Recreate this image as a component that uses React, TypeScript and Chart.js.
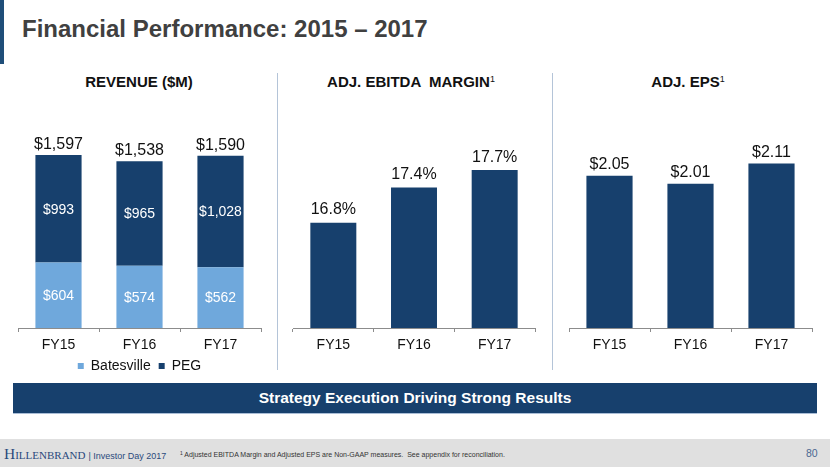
import React, { useEffect, useRef } from "react";
import { Chart, registerables } from "chart.js";

Chart.register(...registerables);

// ---- data ----
const categories = ["FY15", "FY16", "FY17"];
const batesvilleRevenue = [604, 574, 562];
const pegRevenue = [993, 965, 1028];
const revenueTotals = [1597, 1538, 1590];
const ebitdaMargin = [16.8, 17.4, 17.7];
const adjEps = [2.05, 2.01, 2.11];

const NAVY = "#17406d";
const LIGHT = "#6fa8dc";
const FONT = '"Liberation Sans", Arial, Helvetica, sans-serif';

const money = (v: number) => "$" + v.toLocaleString("en-US");
const pct = (v: number) => v.toFixed(1) + "%";
const dollars2 = (v: number) => "$" + v.toFixed(2);

function makeLabelPlugin(topLabels: string[], gap: number, innerLabels?: string[][]) {
  return {
    id: "valueLabels",
    afterDatasetsDraw(chart: any) {
      const ctx = chart.ctx;
      ctx.save();
      ctx.textAlign = "center";
      if (innerLabels) {
        ctx.font = `14px ${FONT}`;
        ctx.fillStyle = "#ffffff";
        ctx.textBaseline = "middle";
        chart.data.datasets.forEach((_ds: any, di: number) => {
          chart.getDatasetMeta(di).data.forEach((bar: any, i: number) => {
            ctx.fillText(innerLabels[di][i], bar.x, (bar.y + bar.base) / 2 + 1);
          });
        });
      }
      const topMeta = chart.getDatasetMeta(chart.data.datasets.length - 1);
      ctx.font = `16px ${FONT}`;
      ctx.fillStyle = "#111111";
      ctx.textBaseline = "alphabetic";
      topMeta.data.forEach((bar: any, i: number) => {
        ctx.fillText(topLabels[i], bar.x, bar.y - gap);
      });
      ctx.restore();
    },
  };
}

function xScale(stacked: boolean, height: number) {
  return {
    stacked,
    grid: {
      display: true,
      drawOnChartArea: false,
      drawTicks: true,
      tickLength: 4,
      color: "#8c8c8c",
      offset: true,
    },
    border: { display: true, color: "#8c8c8c", width: 1 },
    ticks: { color: "#111111", font: { family: FONT, size: 14 }, padding: 5 },
    afterFit: (s: any) => {
      s.height = height;
    },
  };
}

function useChart(build: (c: HTMLCanvasElement) => Chart) {
  const ref = useRef<HTMLCanvasElement | null>(null);
  useEffect(() => {
    if (!ref.current) return;
    const chart = build(ref.current);
    return () => chart.destroy();
  }, []);
  return ref;
}

function RevenueChart() {
  const ref = useChart(
    (c) =>
      new Chart(c, {
        type: "bar",
        data: {
          labels: categories,
          datasets: [
            { label: "Batesville", data: batesvilleRevenue, backgroundColor: LIGHT, borderWidth: 0 },
            { label: "PEG", data: pegRevenue, backgroundColor: NAVY, borderWidth: 0 },
          ],
        },
        options: {
          animation: false,
          responsive: false,
          layout: { padding: { left: 10, right: 11, top: 70, bottom: 7 } },
          datasets: { bar: { categoryPercentage: 1, barPercentage: 0.57 } },
          scales: {
            x: xScale(true, 23) as any,
            y: { stacked: true, display: false, min: 0, max: 1828 },
          },
          plugins: {
            legend: {
              position: "bottom",
              labels: {
                boxWidth: 6,
                boxHeight: 6,
                padding: 8,
                color: "#111111",
                font: { family: FONT, size: 14 },
              },
            },
            tooltip: { enabled: false },
          },
        },
        plugins: [
          makeLabelPlugin(revenueTotals.map(money), 6, [
            batesvilleRevenue.map(money),
            pegRevenue.map(money),
          ]),
        ],
      } as any)
  );
  return (
    <canvas
      ref={ref}
      width={264}
      height={330}
      style={{ position: "absolute", left: 8, top: 60, width: 264, height: 330 }}
    />
  );
}

function SimpleBarChart(props: { data: number[]; labels: string[]; min: number; max: number; left: number; width: number; gap: number }) {
  const ref = useChart(
    (c) =>
      new Chart(c, {
        type: "bar",
        data: {
          labels: categories,
          datasets: [{ label: "value", data: props.data, backgroundColor: NAVY, borderWidth: 0 }],
        },
        options: {
          animation: false,
          responsive: false,
          layout: { padding: { left: 10, right: 10, top: 70, bottom: 22 } },
          datasets: { bar: { categoryPercentage: 1, barPercentage: 0.57 } },
          scales: {
            x: xScale(false, 30) as any,
            y: { display: false, min: props.min, max: props.max },
          },
          plugins: { legend: { display: false }, tooltip: { enabled: false } },
        },
        plugins: [makeLabelPlugin(props.labels, props.gap)],
      } as any)
  );
  return (
    <canvas
      ref={ref}
      width={props.width}
      height={320}
      style={{ position: "absolute", left: props.left, top: 60, width: props.width, height: 320 }}
    />
  );
}

const abs = (s: React.CSSProperties): React.CSSProperties => ({ position: "absolute", ...s });

function PanelTitle(props: { cx: number; text: string; sup?: boolean }) {
  return (
    <div
      style={abs({
        left: props.cx - 150,
        width: 300,
        top: 74,
        textAlign: "center",
        fontSize: 15,
        lineHeight: "15px",
        fontWeight: 700,
        color: "#111111",
        whiteSpace: "pre",
      })}
    >
      {props.text}
      {props.sup ? (
        <span style={{ fontSize: 9, fontWeight: 400, position: "relative", top: -5 }}>1</span>
      ) : null}
    </div>
  );
}

export default function App() {
  return (
    <div
      style={{
        position: "fixed",
        left: 0,
        top: 0,
        width: 830,
        height: 467,
        background: "#ffffff",
        overflow: "hidden",
        fontFamily: FONT,
      }}
    >
      <div style={abs({ left: 0, top: 0, width: 4, height: 64, background: "#1f4e79" })} />
      <div
        style={abs({
          left: 22,
          top: 17,
          fontSize: 24,
          lineHeight: "24px",
          fontWeight: 700,
          color: "#404040",
          whiteSpace: "nowrap",
        })}
      >
        Financial Performance: 2015 – 2017
      </div>

      <PanelTitle cx={139} text="REVENUE ($M)" />
      <PanelTitle cx={411} text={"ADJ. EBITDA  MARGIN"} sup />
      <PanelTitle cx={688} text="ADJ. EPS" sup />

      <div style={abs({ left: 277, top: 73, width: 1, height: 297, background: "#b4c4d8" })} />
      <div style={abs({ left: 552, top: 73, width: 1, height: 297, background: "#b4c4d8" })} />

      <RevenueChart />
      <SimpleBarChart data={ebitdaMargin} labels={ebitdaMargin.map(pct)} min={15} max={18.385} left={283} width={262} gap={8.5} />
      <SimpleBarChart data={adjEps} labels={adjEps.map(dollars2)} min={1.3} max={2.275} left={559} width={263} gap={7} />

      <div
        style={abs({
          left: 13,
          top: 383,
          width: 804,
          height: 30,
          background: NAVY,
          borderBottom: "1px solid #a9bdd6",
          color: "#ffffff",
          fontWeight: 700,
          fontSize: 15.5,
          lineHeight: "30px",
          textAlign: "center",
          whiteSpace: "nowrap",
        })}
      >
        Strategy Execution Driving Strong Results
      </div>

      <div style={abs({ left: 0, top: 439, width: 830, height: 28, background: "#e0e0e0" })} />
      <div style={abs({ left: 4, top: 446, lineHeight: "15.5px", whiteSpace: "nowrap", color: "#2b4a7c" })}>
        <span style={{ fontFamily: '"Liberation Serif", "Times New Roman", serif', fontVariant: "small-caps", fontSize: 15.5 }}>
          Hillenbrand
        </span>
        <span style={{ fontSize: 9, marginLeft: 3 }}>| Investor Day 2017</span>
      </div>
      <div
        style={abs({
          left: 180,
          top: 451,
          fontSize: 7,
          lineHeight: "7px",
          color: "#333333",
          whiteSpace: "pre",
        })}
      >
        <span style={{ fontSize: 5, position: "relative", top: -2 }}>1</span>
        {" Adjusted EBITDA Margin and Adjusted EPS are Non-GAAP measures.  See appendix for reconciliation."}
      </div>
      <div style={abs({ left: 806, top: 448, fontSize: 10.5, lineHeight: "10.5px", color: "#4a6890" })}>80</div>
    </div>
  );
}
